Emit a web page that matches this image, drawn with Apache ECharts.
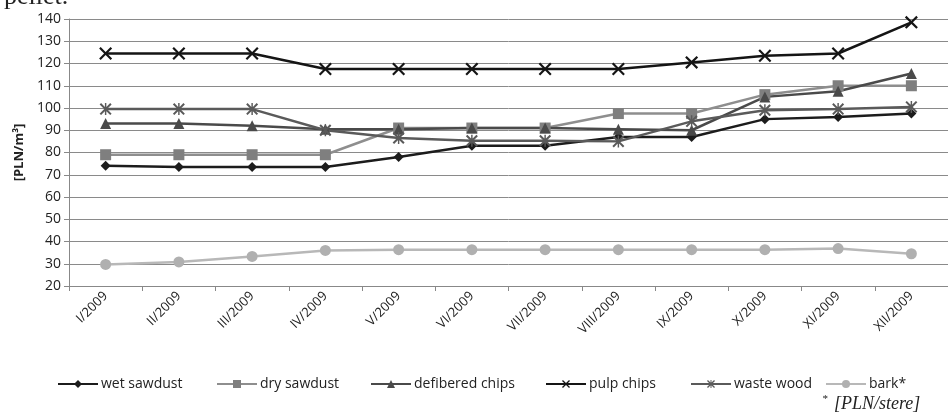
<!DOCTYPE html>
<html><head><meta charset="utf-8">
<script src="https://cdn.jsdelivr.net/npm/echarts@6/dist/echarts.min.js"></script>
<style>html,body{margin:0;padding:0;background:#fff}#c{width:948px;height:419px}</style>
</head><body><div id="c"></div>
<script>
const categories = ['I/2009','II/2009','III/2009','IV/2009','V/2009','VI/2009','VII/2009','VIII/2009','IX/2009','X/2009','XI/2009','XII/2009'];
const wetSawdust = [74, 73.5, 73.5, 73.5, 78, 83, 83, 87, 87, 95, 96, 97.5];
const drySawdust = [79, 79, 79, 79, 91, 91, 91, 97.5, 97.5, 106, 110, 110];
const defiberedChips = [93, 93, 92, 90.5, 90.5, 91, 91, 90.5, 90, 105, 107.5, 115.5];
const pulpChips = [124.5, 124.5, 124.5, 117.5, 117.5, 117.5, 117.5, 117.5, 120.5, 123.5, 124.5, 138.5];
const wasteWood = [99.5, 99.5, 99.5, 90, 86.5, 85.3, 85.3, 85, 94, 99, 99.5, 100.5];
const bark = [29.7, 30.8, 33.3, 36, 36.3, 36.3, 36.3, 36.3, 36.3, 36.3, 36.8, 34.5];
const yTicks = {min: 20, max: 140, interval: 10};

const xPath = 'path://M0,1.2L1.2,0L5,3.8L8.8,0L10,1.2L6.2,5L10,8.8L8.8,10L5,6.2L1.2,10L0,8.8L3.8,5Z';
const starPath = 'path://M0,1.2L1.2,0L5,3.8L8.8,0L10,1.2L6.2,5L10,8.8L8.8,10L5,6.2L1.2,10L0,8.8L3.8,5Z M4.4,0L5.6,0L5.6,10L4.4,10Z';

function mk(name, data, color, symbol, size, width, mcolor) {
  return {
    name, type: 'line', data, symbol, symbolSize: size,
    lineStyle: {color, width},
    itemStyle: {color: mcolor || color},
    emphasis: {disabled: true}, animation: false, z: 3
  };
}
const series = [
  mk('wet sawdust', wetSawdust, '#1c1c1c', 'diamond', 10, 2.5),
  mk('dry sawdust', drySawdust, '#8e8e8e', 'rect', 11, 2.5, '#7f7f7f'),
  mk('defibered chips', defiberedChips, '#4a4a4a', 'triangle', 11, 2.5),
  mk('pulp chips', pulpChips, '#151515', xPath, 13, 2.5),
  mk('waste wood', wasteWood, '#5a5a5a', starPath, 12, 2.5),
  mk('bark*', bark, '#b8b8b8', 'circle', 11, 2.5, '#b0b0b0')
];
const legendLefts = [57, 216, 370, 545, 690, 825];
const legends = series.map((s, i) => ({
  data: [s.name], left: legendLefts[i], top: 377, padding: 0, itemWidth: 40, itemHeight: 10, itemGap: 0,
  textStyle: {fontFamily: 'Open Sans', fontSize: 14, color: '#222', padding: [0, 0, 0, -2]}, selectedMode: false
}));

const chart = echarts.init(document.getElementById('c'), null, {renderer: 'canvas'});
chart.setOption({
  animation: false,
  backgroundColor: '#fff',
  grid: {left: 69, right: -16, top: 19, bottom: 133, containLabel: false},
  legend: legends,
  xAxis: {
    type: 'category', data: categories, boundaryGap: true,
    axisLine: {show: true, lineStyle: {color: '#888', width: 1}},
    axisTick: {show: true, alignWithLabel: false, length: 5, lineStyle: {color: '#888'}},
    axisLabel: {rotate: 45, fontFamily: 'Open Sans', fontSize: 13, color: '#222', margin: 8, interval: 0}
  },
  yAxis: {
    type: 'value', min: yTicks.min, max: yTicks.max, interval: yTicks.interval,
    name: '[PLN/m³]', nameLocation: 'middle', nameGap: 43, nameRotate: 90,
    nameTextStyle: {fontFamily: 'Open Sans', fontSize: 13, fontWeight: 'bold', color: '#222'},
    axisLine: {show: true, lineStyle: {color: '#888'}},
    axisTick: {show: true, length: 5, inside: false, lineStyle: {color: '#888'}},
    axisLabel: {fontFamily: 'Open Sans', fontSize: 14, color: '#222', margin: 8},
    splitLine: {show: true, lineStyle: {color: '#8a8a8a', width: 1}}
  },
  graphic: [
    {type: 'text', left: 4, top: -16, style: {text: 'pellet.', font: '26px "Liberation Serif"', fill: '#222'}},
    {type: 'text', left: 822, top: 394, style: {text: '*', font: 'italic 11px "Liberation Serif"', fill: '#222'}},
    {type: 'text', left: 834, top: 395, style: {text: '[PLN/stere]', font: 'italic 18px "Liberation Serif"', fill: '#222'}}
  ],
  series
});
</script></body></html>
